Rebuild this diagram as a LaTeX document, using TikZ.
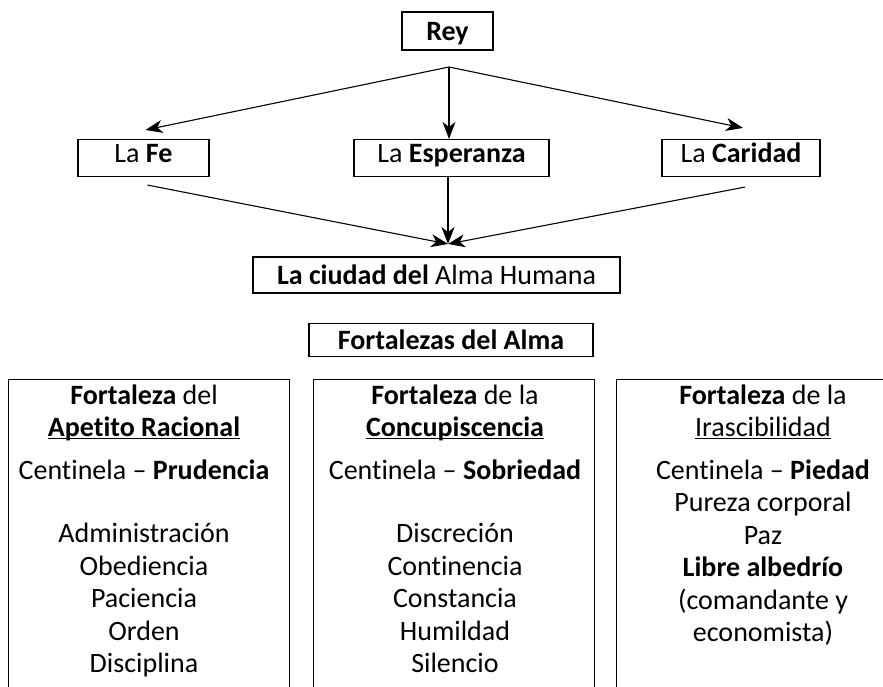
\documentclass[tikz,border=0pt]{standalone}
\usepackage{fontspec}
\setmainfont{Carlito}[Ligatures={TeX,NoCommon}]
\usetikzlibrary{arrows.meta,positioning}
\newcommand{\ulword}[1]{\underline{\smash{#1}}}
\begin{document}
\begin{tikzpicture}[x=1pt,y=-1pt,
  every node/.style={font=\fontsize{28}{32.5}\selectfont},
  box/.style={draw,line width=1.1pt,inner sep=0pt,text height=18.4pt,text depth=0pt},
  virtud/.style={box,minimum height=37pt,text depth=9pt},
  arr/.style={line width=1.1pt,-{Stealth[length=17pt,width=13pt,inset=5pt]}},
  colbox/.style={draw,line width=1.1pt,anchor=north west,minimum height=330pt,inner sep=0pt},
  coltext/.style={anchor=north,align=center,inner sep=0pt}]
\clip (0,0) rectangle (883,687);
\node[box,minimum width=91pt,minimum height=38pt] (rey) at (447.5,31) {\textbf{Rey}};
\node[virtud,minimum width=131pt] (fe) at (143.5,158) {La \textbf{Fe}};
\node[virtud,minimum width=195pt] (esp) at (451.5,158) {La \textbf{Esperanza}};
\node[virtud,minimum width=158pt] (car) at (741,158) {La \textbf{Caridad}};
\node[box,minimum width=367pt,minimum height=36pt] (alma) at (436.5,275) {\textbf{La ciudad del} Alma Humana};
\node[box,minimum width=284pt,minimum height=33pt] (fort) at (451,340) {\textbf{Fortalezas del Alma}};
% arrows rey -> virtudes
\coordinate (split) at (449,67);
\draw[arr] (split) -- ([xshift=2pt,yshift=9pt]fe.north);
\draw[arr] (split) -- (split |- esp.north);
\draw[arr] (split) -- ([xshift=2pt,yshift=11pt]car.north);
% arrows virtudes -> alma
\coordinate (join) at (448,244);
\draw[arr] ([xshift=4pt,yshift=-8pt]fe.south) -- (join);
\draw[arr] (esp.south -| join) -- (join);
\draw[arr] ([xshift=4pt,yshift=-10pt]car.south) -- (join);
% fortalezas
\node[colbox,minimum width=281pt] (apetito) at (8,379) {};
\node[colbox,minimum width=281pt] (concup) at (313,379) {};
\node[colbox,minimum width=290pt] (irasc) at (616,379) {};
\node[coltext] (apetitotxt) at (144,384.5) {\textbf{Fortaleza} del\\ \ulword{\textbf{Apetito Racional}}\\[10pt]
  Centinela – \textbf{Prudencia}\\[31pt] Administración\\ Obediencia\\ Paciencia\\ Orden\\ Disciplina};
\node[coltext] (concuptxt) at (455,384.5) {\textbf{Fortaleza} de la\\ \ulword{\textbf{Concupiscencia}}\\[10pt]
  Centinela – \textbf{Sobriedad}\\[31pt] Discreción\\ Continencia\\ Constancia\\ Humildad\\ Silencio};
\node[coltext] (irasctxt) at (763,384.5) {\textbf{Fortaleza} de la\\ \ulword{Irascibilidad}\\[10pt]
  Centinela – \textbf{Piedad}\\ Pureza corporal\\ Paz\\ \textbf{Libre albedrío}\\ (comandante y\\ economista)};
\end{tikzpicture}
\end{document}
